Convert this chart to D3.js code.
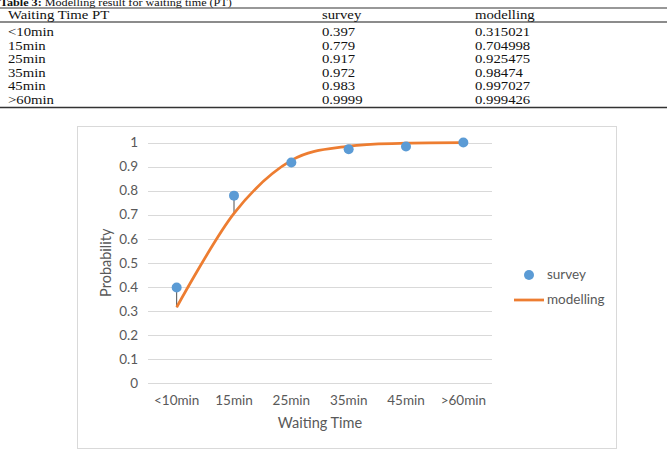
<!DOCTYPE html>
<html>
<head>
<meta charset="utf-8">
<script src="https://cdn.jsdelivr.net/npm/d3@7"></script>
<style>
  body { margin: 0; background: #fff; }
  svg { display: block; }
</style>
</head>
<body>
<svg id="chart" width="669" height="452"></svg>
<script>
var categories = ["<10min", "15min", "25min", "35min", "45min", ">60min"];
var survey = [0.397, 0.779, 0.917, 0.972, 0.983, 0.9999];
var modelling = [0.315021, 0.704998, 0.925475, 0.98474, 0.997027, 0.999426];
var surveyLabels = ["0.397", "0.779", "0.917", "0.972", "0.983", "0.9999"];
var modelLabels = ["0.315021", "0.704998", "0.925475", "0.98474", "0.997027", "0.999426"];
var yTicks = [0, 0.1, 0.2, 0.3, 0.4, 0.5, 0.6, 0.7, 0.8, 0.9, 1];

var svg = d3.select("#chart");

/* table on top - the scan is stretched sideways a little */
var sx = 1.18;
var tab = svg.append("g").attr("font-family", "'Liberation Serif', 'Times New Roman', serif")
  .attr("font-size", 12.5).attr("fill", "#111")
  .attr("transform", "scale(" + sx + ",1)");

var title = tab.append("text").attr("x", 0).attr("y", 5.5).attr("font-size", 10.3);
title.append("tspan").attr("font-weight", "bold").text("Table 3:");
title.append("tspan").text(" Modelling result for waiting time (PT)");

function hline(yy, w, col) {
  tab.append("line").attr("x1", 0).attr("x2", 667 / sx).attr("y1", yy).attr("y2", yy)
    .attr("stroke", col).attr("stroke-width", w);
}
hline(8, 1, "#333");
hline(22, 1.5, "#666");
hline(107.5, 1.5, "#333");

var colX = [8, 322, 475];
var header = ["Waiting Time PT", "survey", "modelling"];
header.forEach(function(h, i) {
  tab.append("text").attr("x", colX[i] / sx).attr("y", 19).text(h);
});
var rowY = d3.scaleLinear().domain([0, categories.length - 1]).range([36.5, 104]);
categories.forEach(function(c, i) {
  tab.append("text").attr("x", colX[0] / sx).attr("y", rowY(i)).text(c);
  tab.append("text").attr("x", colX[1] / sx).attr("y", rowY(i)).text(surveyLabels[i]);
  tab.append("text").attr("x", colX[2] / sx).attr("y", rowY(i)).text(modelLabels[i]);
});

/* chart box */
svg.append("rect").attr("x", 77.5).attr("y", 126.5).attr("width", 539).attr("height", 322)
  .attr("fill", "#fff").attr("stroke", "#d9d9d9").attr("stroke-width", 1);

var plot = { left: 148, right: 492, top: 142.5, bottom: 383 };

var x = d3.scaleBand().domain(categories).range([plot.left, plot.right]);
var y = d3.scaleLinear().domain([0, 1]).range([plot.bottom, plot.top]);

var g = svg.append("g").attr("font-family", "Lato, 'Open Sans', sans-serif").attr("fill", "#595959");

// gridlines
g.append("g").selectAll("line").data(yTicks).enter().append("line")
  .attr("x1", plot.left).attr("x2", plot.right)
  .attr("y1", function(d) { return Math.round(y(d)) + 0.5; })
  .attr("y2", function(d) { return Math.round(y(d)) + 0.5; })
  .attr("stroke", "#d9d9d9").attr("stroke-width", 1);

// y axis labels
var yAxis = g.append("g").attr("transform", "translate(" + plot.left + ",0)")
  .call(d3.axisLeft(y).tickValues(yTicks).tickSize(0).tickPadding(10)
    .tickFormat(function(d) { return d3.format("")(+d.toFixed(1)); }));
yAxis.select(".domain").remove();
yAxis.selectAll("text").attr("font-family", "Lato, 'Open Sans', sans-serif")
  .attr("font-size", 13.5).attr("fill", "#595959");

// x axis labels
var xAxis = g.append("g").attr("transform", "translate(0," + plot.bottom + ")")
  .call(d3.axisBottom(x).tickSize(0).tickPadding(12));
xAxis.select(".domain").remove();
xAxis.selectAll("text").attr("font-family", "Lato, 'Open Sans', sans-serif")
  .attr("font-size", 13.5).attr("fill", "#595959");

// axis titles
g.append("text").attr("x", (plot.left + plot.right) / 2).attr("y", 428)
  .attr("text-anchor", "middle").attr("font-size", 14.5).text("Waiting Time");
g.append("text").attr("transform", "translate(111," + ((plot.top + plot.bottom) / 2) + ") rotate(-90)")
  .attr("text-anchor", "middle").attr("font-size", 14.5).text("Probability");

var cx = function(i) { return x(categories[i]) + x.bandwidth() / 2; };

// drop lines between survey and modelling
svg.append("g").selectAll("line").data(categories).enter().append("line")
  .attr("x1", function(d, i) { return cx(i); }).attr("x2", function(d, i) { return cx(i); })
  .attr("y1", function(d, i) { return y(survey[i]); })
  .attr("y2", function(d, i) { return y(modelling[i]); })
  .attr("stroke", "#222").attr("stroke-width", 0.8);

// modelling smooth line
var line = d3.line()
  .x(function(d, i) { return cx(i); })
  .y(function(d) { return y(d); })
  .curve(d3.curveCardinal.tension(0));
svg.append("path").datum(modelling).attr("d", line)
  .attr("fill", "none").attr("stroke", "#ed7d31").attr("stroke-width", 2.75)
  .attr("stroke-linejoin", "round");

// survey dots
svg.append("g").selectAll("circle").data(survey).enter().append("circle")
  .attr("cx", function(d, i) { return cx(i); })
  .attr("cy", function(d) { return y(d); })
  .attr("r", 5).attr("fill", "#5b9bd5");

// legend
var leg = svg.append("g").attr("font-family", "Lato, 'Open Sans', sans-serif")
  .attr("font-size", 13.5).attr("fill", "#595959");
leg.append("circle").attr("cx", 529).attr("cy", 275).attr("r", 5).attr("fill", "#5b9bd5");
leg.append("text").attr("x", 547).attr("y", 279).text("survey");
leg.append("line").attr("x1", 514).attr("x2", 544).attr("y1", 300).attr("y2", 300)
  .attr("stroke", "#ed7d31").attr("stroke-width", 2.75);
leg.append("text").attr("x", 547).attr("y", 304).text("modelling");
</script>
</body>
</html>
